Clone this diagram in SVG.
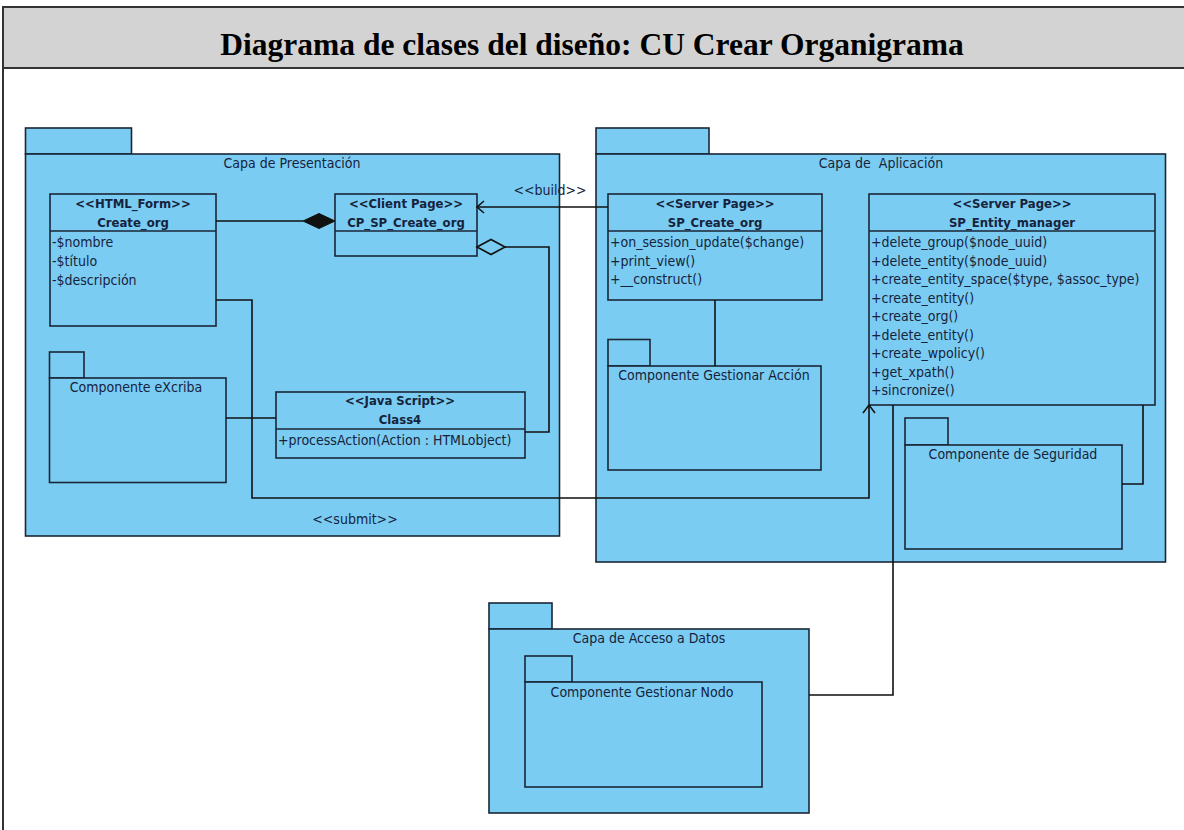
<svg xmlns="http://www.w3.org/2000/svg" width="1184" height="830" viewBox="0 0 1184 830">
  <style>
    .frame { fill: #ffffff; stroke: #333333; stroke-width: 2; }
    .head { fill: #d3d3d3; stroke: #333333; stroke-width: 2; }
    .title { font-family: "Liberation Serif", "Times New Roman", serif; font-weight: bold; font-size: 31.5px; fill: #000000; }
    .pkg, .cls { fill: #7accf2; stroke: #1b2636; stroke-width: 1.6; }
    .sep { stroke: #1b2636; stroke-width: 1.6; }
    .t { font-family: "DejaVu Sans Condensed", "DejaVu Sans", sans-serif; font-size: 14px; fill: #16233c; }
    .b { font-weight: bold; font-size: 13px; }
    .c { text-anchor: middle; }
    .conn { fill: none; stroke: #111111; stroke-width: 1.6; }
  </style>

  <!-- outer frame and heading -->
  <rect class="frame" x="3" y="7" width="1195" height="840"/>
  <rect class="head" x="3" y="7" width="1195" height="61"/>
  <text class="title c" x="592" y="55">Diagrama de clases del diseño: CU Crear Organigrama</text>

  <!-- packages -->
  <g id="pkg-presentacion">
    <rect class="pkg" x="25.5" y="128" width="106" height="26"/>
    <rect class="pkg" x="25.5" y="154" width="534" height="382"/>
    <text class="t c" x="292" y="168">Capa de Presentación</text>
  </g>
  <g id="pkg-aplicacion">
    <rect class="pkg" x="596" y="128" width="113" height="26"/>
    <rect class="pkg" x="596" y="154" width="569.5" height="408"/>
    <text class="t c" x="881" y="168" xml:space="preserve">Capa de  Aplicación</text>
  </g>
  <g id="pkg-acceso">
    <rect class="pkg" x="489" y="603" width="63" height="26"/>
    <rect class="pkg" x="489" y="629" width="320" height="184"/>
    <text class="t c" x="649" y="643">Capa de Acceso a Datos</text>
  </g>

  <!-- components -->
  <g id="comp-excriba">
    <rect class="pkg" x="49.5" y="352" width="34.5" height="26"/>
    <rect class="pkg" x="49.5" y="378" width="176.5" height="104.5"/>
    <text class="t c" x="136" y="392">Componente eXcriba</text>
  </g>
  <g id="comp-gestionar-accion">
    <rect class="pkg" x="608" y="339.5" width="42" height="26.5"/>
    <rect class="pkg" x="608" y="366" width="213" height="104"/>
    <text class="t c" x="714" y="380">Componente Gestionar Acción</text>
  </g>
  <g id="comp-seguridad">
    <rect class="pkg" x="905" y="418" width="43" height="27"/>
    <rect class="pkg" x="905" y="445" width="217" height="104"/>
    <text class="t c" x="1013" y="459">Componente de Seguridad</text>
  </g>
  <g id="comp-gestionar-nodo">
    <rect class="pkg" x="525" y="656" width="47" height="26"/>
    <rect class="pkg" x="525" y="682" width="237" height="105"/>
    <text class="t c" x="642" y="697">Componente Gestionar Nodo</text>
  </g>

  <!-- classes -->
  <g id="cls-create-org">
    <rect class="cls" x="50" y="194" width="166" height="132"/>
    <line class="sep" x1="50" y1="231" x2="216" y2="231"/>
    <text class="t b c" x="133" y="208">&lt;&lt;HTML_Form&gt;&gt;</text>
    <text class="t b c" x="133" y="227">Create_org</text>
    <text class="t" x="52" y="247">-$nombre</text>
    <text class="t" x="52" y="266">-$título</text>
    <text class="t" x="52" y="285">-$descripción</text>
  </g>
  <g id="cls-cp-sp-create-org">
    <rect class="cls" x="335" y="194" width="142" height="62"/>
    <line class="sep" x1="335" y1="231" x2="477" y2="231"/>
    <text class="t b c" x="406" y="208">&lt;&lt;Client Page&gt;&gt;</text>
    <text class="t b c" x="406" y="227">CP_SP_Create_org</text>
  </g>
  <g id="cls-class4">
    <rect class="cls" x="276" y="392" width="249" height="66"/>
    <line class="sep" x1="276" y1="429" x2="525" y2="429"/>
    <text class="t b c" x="400" y="405">&lt;&lt;Java Script&gt;&gt;</text>
    <text class="t b c" x="400" y="424">Class4</text>
    <text class="t" x="278" y="445">+processAction(Action : HTMLobject)</text>
  </g>
  <g id="cls-sp-create-org">
    <rect class="cls" x="608" y="194" width="214" height="106"/>
    <line class="sep" x1="608" y1="231" x2="822" y2="231"/>
    <text class="t b c" x="715" y="208">&lt;&lt;Server Page&gt;&gt;</text>
    <text class="t b c" x="715" y="227">SP_Create_org</text>
    <text class="t" x="610" y="247">+on_session_update($change)</text>
    <text class="t" x="610" y="265.5">+print_view()</text>
    <text class="t" x="610" y="284">+__construct()</text>
  </g>
  <g id="cls-sp-entity-manager">
    <rect class="cls" x="869" y="194" width="286" height="211"/>
    <line class="sep" x1="869" y1="231" x2="1155" y2="231"/>
    <text class="t b c" x="1012" y="208">&lt;&lt;Server Page&gt;&gt;</text>
    <text class="t b c" x="1012" y="227">SP_Entity_manager</text>
    <text class="t" x="871" y="247">+delete_group($node_uuid)</text>
    <text class="t" x="871" y="265.5">+delete_entity($node_uuid)</text>
    <text class="t" x="871" y="284">+create_entity_space($type, $assoc_type)</text>
    <text class="t" x="871" y="302.5">+create_entity()</text>
    <text class="t" x="871" y="321">+create_org()</text>
    <text class="t" x="871" y="339.5">+delete_entity()</text>
    <text class="t" x="871" y="358">+create_wpolicy()</text>
    <text class="t" x="871" y="376.5">+get_xpath()</text>
    <text class="t" x="871" y="395">+sincronize()</text>
  </g>

  <!-- connectors -->
  <g id="connectors">
    <!-- composition Create_org to CP_SP_Create_org -->
    <line class="conn" x1="216" y1="221" x2="303" y2="221"/>
    <polygon points="335,221 319,213.5 303,221 319,228.5" fill="#111111" stroke="#111111" stroke-width="1"/>
    <!-- aggregation CP_SP_Create_org to Class4 -->
    <polygon points="477,247 491,239.5 505,247 491,254.5" fill="#7accf2" stroke="#111111" stroke-width="1.6"/>
    <polyline class="conn" points="505,247 549,247 549,432 525,432"/>
    <!-- eXcriba to Class4 -->
    <line class="conn" x1="226" y1="418" x2="276" y2="418"/>
    <!-- submit -->
    <polyline class="conn" points="216,300 252,300 252,498 869,498 869,405"/>
    <polyline class="conn" points="863,413 869,405 875,413"/>
    <text class="t c" x="355" y="524">&lt;&lt;submit&gt;&gt;</text>
    <!-- build -->
    <line class="conn" x1="608" y1="207" x2="477" y2="207"/>
    <polyline class="conn" points="484,201 477,207 484,213"/>
    <text class="t c" x="550" y="195">&lt;&lt;build&gt;&gt;</text>
    <!-- SP_Create_org to Componente Gestionar Acción -->
    <line class="conn" x1="715" y1="300" x2="715" y2="366"/>
    <!-- SP_Entity_manager to Componente de Seguridad -->
    <polyline class="conn" points="1143,405 1143,484 1122,484"/>
    <!-- SP_Entity_manager to Capa de Acceso a Datos -->
    <polyline class="conn" points="893,405 893,695 809,695"/>
  </g>
</svg>
